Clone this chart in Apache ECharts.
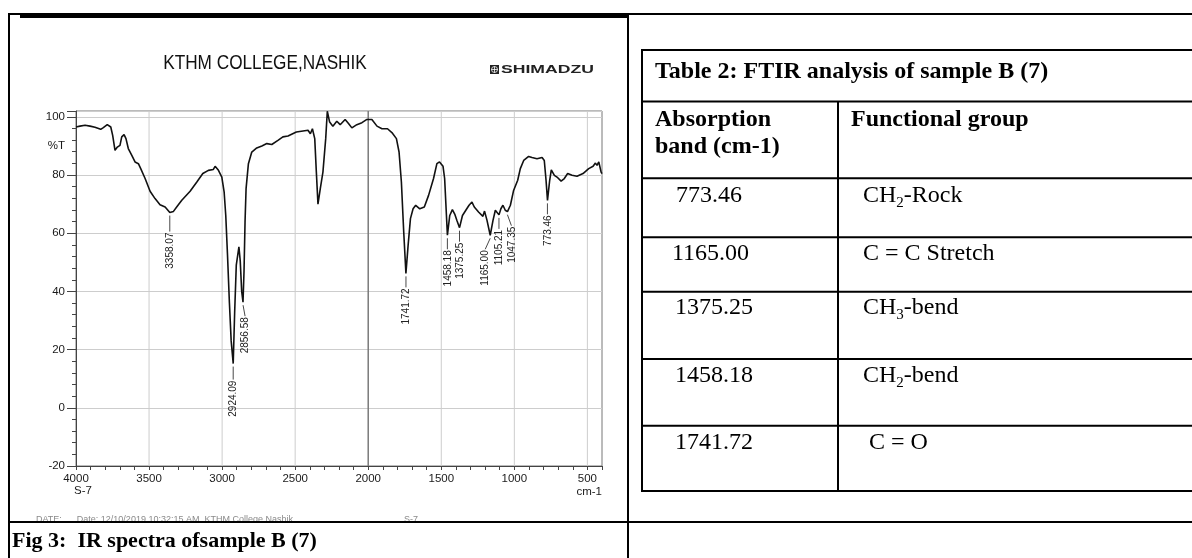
<!DOCTYPE html>
<html><head><meta charset="utf-8">
<script src="https://cdn.jsdelivr.net/npm/echarts@6/dist/echarts.min.js"></script>
<style>html,body{margin:0;padding:0;background:#fff;}#c{width:1192px;height:558px;}</style>
</head><body><div id="c"></div>
<script>
// ---- spectrum data (wavenumber cm-1, %T) ----
const wavenumbers = [4000,3973,3938,3904,3870,3831,3813,3786,3762,3749,3733,3717,3699,3687,3671,3658,3642,3619,3596,3573,3557,3527,3493,3459,3425,3390,3358,3333,3311,3276,3219,3173,3132,3094,3060,3048,3025,3002,2986,2975,2963,2950,2938,2924,2914,2903,2885,2876,2866,2857,2850,2843,2836,2820,2797,2763,2728,2694,2660,2618,2584,2549,2492,2412,2396,2382,2366,2355,2344,2328,2310,2291,2280,2264,2242,2215,2192,2158,2135,2112,2078,2043,2009,1975,1940,1906,1868,1838,1807,1789,1773,1757,1742,1727,1711,1693,1675,1647,1616,1587,1553,1530,1512,1488,1477,1458,1442,1424,1408,1393,1375,1355,1332,1310,1290,1274,1245,1215,1204,1187,1165,1146,1130,1118,1105,1092,1078,1062,1047,1027,1005,977,959,936,902,879,845,810,795,783,773,758,747,726,708,680,658,635,605,571,530,491,461,445,434,422,406,400];
const transmittance = [96.5,96.8,97.1,96.8,96.4,95.7,96.3,97.3,96.5,93.6,88.5,89.6,90.2,93.1,93.9,92.5,89.1,86.8,84.5,83.9,82.2,78.8,74.4,71.9,69.8,69.0,67.1,67.5,69.0,71.3,74.4,77.6,80.5,81.6,81.9,83.0,81.6,79.3,74.1,66.1,52.4,36.0,23.0,15.2,33.0,49.0,55.3,50.5,40.0,36.3,47.0,64.0,75.3,83.9,87.9,89.3,90.0,90.8,90.5,91.9,93.1,93.4,94.8,95.4,94.2,95.9,92.5,81.0,70.0,75.3,81.0,92.5,101.9,98.2,96.8,98.5,97.3,99.1,97.7,96.2,97.3,98.0,99.1,99.1,96.8,95.9,95.9,94.6,92.5,87.9,77.6,60.4,46.2,55.8,65.0,68.4,69.6,68.4,69.0,73.0,78.8,83.9,84.5,83.0,78.8,59.3,66.1,68.1,66.6,64.4,61.9,66.1,67.9,69.6,70.7,69.0,67.3,65.8,67.6,64.4,59.3,64.4,67.9,67.3,66.3,68.4,69.6,67.9,67.4,69.6,74.7,78.2,82.2,85.0,86.4,86.0,85.6,86.0,85.0,78.2,71.3,78.2,81.8,79.9,79.3,77.9,78.8,80.5,79.9,79.6,80.5,82.2,83.0,84.1,83.3,84.5,81.0,80.5];

// ---- labelled peaks ----
const peakLabels = ['3358.07','2924.09','2856.58','1741.72','1458.18','1375.25','1165.00','1105.21','1047.35','773.46'];
const peakWavenumbers = [3358.07,2924.09,2856.58,1741.72,1458.18,1375.25,1165.00,1105.21,1047.35,773.46];
const peakTransmittance = [67.1,15.2,36.3,46.2,59.3,61.9,59.3,66.3,67.4,71.3];

// ---- axis ticks ----
const xTickLabels = [4000,3500,3000,2500,2000,1500,1000,500];
const yTickLabels = [-20,0,20,40,60,80,100];

// ---- texts ----
const chartTitle = 'KTHM COLLEGE,NASHIK';
const brandName = 'SHIMADZU';
const sampleName = 'S-7';
const unitName = 'cm-1';
const yUnit = '%T';
const caption = 'Fig 3:  IR spectra ofsample B (7)';
const tableTitle = 'Table 2: FTIR analysis of sample B (7)';
const tableHeaders = ['Absorption\nband (cm-1)', 'Functional group'];
const tableBands = ['773.46','1165.00','1375.25','1458.18','1741.72'];
const tableGroups = ['CH_2-Rock','C = C Stretch','CH_3-bend','CH_2-bend',' C = O'];

// ---- layout / style (not data) ----
const SANS = "'Liberation Sans',Arial,sans-serif";
const SERIF = "'Liberation Serif','Times New Roman',serif";
const labelNudge = {'2856.58':2,'1165.00':-5,'1047.35':4};
const labelGap = {'3358.07':20,'2924.09':17};
const rowCenters = [196,254,308,376,443];
const rowLines = [101.5,178.3,237.3,291.7,359,425.7,491];
const bandX = [676,672,675,675,675];

const spectrum = wavenumbers.map((w,i)=>[w,transmittance[i]]);
const peaks = peakWavenumbers.map((w,i)=>[w,peakTransmittance[i],i]);
const gridV = xTickLabels.filter(v=>v<4000).map(v=>[v,0]);

function groupRich(s){
  const m = s.match(/^(.*)_(\d)(.*)$/);
  if(!m) return '{n|'+s+'}';
  return '{n|'+m[1]+'}{s|'+m[2]+'}{n|'+m[3]+'}';
}

const graphics = [];
// document frame
graphics.push({type:'rect',shape:{x:9,y:521,width:618,height:37},style:{fill:'#fff'},z:20});
graphics.push({type:'text',x:36,y:520,style:{text:'DATE:      Date: 12/10/2019 10:32:15 AM  KTHM College Nashik',fill:'#8a8a8a',font:'9px '+SANS,verticalAlign:'middle'},z:15});
graphics.push({type:'text',x:404,y:520,style:{text:'S-7',fill:'#8a8a8a',font:'9px '+SANS,verticalAlign:'middle'},z:15});
const L = (x1,y1,x2,y2,w)=>({type:'line',shape:{x1,y1,x2,y2},style:{stroke:'#000',lineWidth:w||2},z:30});
graphics.push(L(9,13,9,558));
graphics.push(L(8,14,1192,14));
graphics.push({type:'rect',shape:{x:20,y:13,width:608,height:5},style:{fill:'#000'},z:30});
graphics.push(L(628,13,628,558));
graphics.push(L(8,522,1192,522));
graphics.push({type:'text',x:12,y:541,style:{text:caption,font:'bold 22px '+SERIF,fill:'#000',verticalAlign:'middle'},z:31});
// chart decorations
graphics.push({type:'text',x:265,y:63,scaleX:0.86,originX:0,originY:0,style:{text:chartTitle,font:'20px '+SANS,fill:'#111',align:'center',verticalAlign:'middle'},z:30});
graphics.push({type:'rect',shape:{x:490,y:65,width:9,height:9},style:{fill:'#222'},z:30});
graphics.push({type:'circle',shape:{cx:494.5,cy:69.5,r:3},style:{fill:'none',stroke:'#fff',lineWidth:0.8},z:31});
graphics.push({type:'line',shape:{x1:494.5,y1:66.3,x2:494.5,y2:72.7},style:{stroke:'#fff',lineWidth:0.8},z:31});
graphics.push({type:'line',shape:{x1:491.3,y1:69.5,x2:497.7,y2:69.5},style:{stroke:'#fff',lineWidth:0.8},z:31});
graphics.push({type:'text',x:501,y:70,scaleX:1.6,originX:0,originY:0,style:{text:brandName,font:'bold 11px '+SANS,fill:'#222',verticalAlign:'middle'},z:30});
graphics.push({type:'text',x:65,y:146,style:{text:yUnit,font:'11.5px '+SANS,fill:'#1a1a1a',align:'right',verticalAlign:'middle'},z:30});
graphics.push({type:'text',x:83,y:491,style:{text:sampleName,font:'11.5px '+SANS,fill:'#1a1a1a',align:'center',verticalAlign:'middle'},z:30});
graphics.push({type:'text',x:602,y:492,style:{text:unitName,font:'11.5px '+SANS,fill:'#1a1a1a',align:'right',verticalAlign:'middle'},z:30});
// table
graphics.push(L(642,49,642,492));
graphics.push(L(641,50,1192,50));
rowLines.forEach(y=>graphics.push(L(641,y,1192,y)));
graphics.push(L(838,rowLines[0],838,492));
graphics.push({type:'text',x:655,y:72,style:{text:tableTitle,font:'bold 24px '+SERIF,fill:'#000',verticalAlign:'middle'},z:31});
graphics.push({type:'text',x:655,y:133,style:{text:tableHeaders[0],font:'bold 24px '+SERIF,lineHeight:27,fill:'#000',verticalAlign:'middle'},z:31});
graphics.push({type:'text',x:851,y:120,style:{text:tableHeaders[1],font:'bold 24px '+SERIF,fill:'#000',verticalAlign:'middle'},z:31});
tableBands.forEach((b,i)=>{
  graphics.push({type:'text',x:bandX[i],y:rowCenters[i],style:{text:b,font:'24px '+SERIF,fill:'#000',verticalAlign:'middle'},z:31});
  graphics.push({type:'text',x:863,y:rowCenters[i],style:{text:groupRich(tableGroups[i]),verticalAlign:'middle',
    rich:{n:{fontFamily:SERIF,fontSize:24,lineHeight:29,verticalAlign:'middle',fill:'#000'},
          s:{fontFamily:SERIF,fontSize:15,lineHeight:15,verticalAlign:'bottom',fill:'#000'}}},z:31});
});

const chart = echarts.init(document.getElementById('c'));
chart.setOption({
  animation:false,
  backgroundColor:'#fff',
  grid:{left:76,top:111,right:590,bottom:92,show:true,borderColor:'#777',borderWidth:1,containLabel:false},
  xAxis:{type:'value',min:400,max:4000,interval:100,inverse:true,
    axisLine:{show:true,onZero:false,lineStyle:{color:'#444',width:1}},
    axisTick:{show:true,length:4,lineStyle:{color:'#444'}},
    axisLabel:{formatter:v=>xTickLabels.includes(v)?String(v):'',margin:7,color:'#1a1a1a',fontSize:11.5,fontFamily:SANS,showMinLabel:true,showMaxLabel:true},
    splitLine:{show:false}},
  yAxis:[
    {type:'value',min:-20,max:102,interval:20,
     axisLine:{show:true,onZero:false,lineStyle:{color:'#444',width:1}},
     axisTick:{show:true,length:9,lineStyle:{color:'#444'}},
     axisLabel:{formatter:v=>yTickLabels.includes(v)?String(v):'',margin:11,color:'#1a1a1a',fontSize:11.5,fontFamily:SANS},
     splitLine:{show:true,lineStyle:{color:'#cdcdcd',width:1}}},
    {type:'value',min:-20,max:102,interval:4,position:'left',
     axisLine:{show:false},axisTick:{show:true,length:4,lineStyle:{color:'#444'}},
     axisLabel:{show:false},splitLine:{show:false}}
  ],
  graphic:graphics,
  series:[
    {type:'custom',z:1,silent:true,data:gridV,
     renderItem:(params,api)=>{
       const w = api.value(0);
       const a = api.coord([w,-20]), b = api.coord([w,102]);
       return {type:'line',shape:{x1:a[0],y1:a[1],x2:b[0],y2:b[1]},
         style:{stroke: w===2000?'#7a7a7a':'#cdcdcd',lineWidth: w===2000?1.5:1}};
     }},
    {type:'line',z:3,data:spectrum,showSymbol:false,smooth:false,
     lineStyle:{color:'#111',width:1.6},silent:true},
    {type:'custom',z:4,silent:true,data:peaks,
     renderItem:(params,api)=>{
       const p = api.coord([api.value(0),api.value(1)]);
       const lbl = peakLabels[params.dataIndex];
       const dx = labelNudge[lbl]||0, gap = labelGap[lbl]||15;
       const tx = p[0]+dx, ty = p[1]+gap;
       return {type:'group',children:[
         {type:'line',shape:{x1:p[0],y1:p[1]+3,x2:tx,y2:ty-1},style:{stroke:'#333',lineWidth:0.9}},
         {type:'text',x:tx,y:ty,rotation:Math.PI/2,scaleX:0.87,
          style:{text:lbl,align:'right',verticalAlign:'middle',font:'11.5px '+SANS,fill:'#222'}}
       ]};
     }}
  ]
});
</script></body></html>
